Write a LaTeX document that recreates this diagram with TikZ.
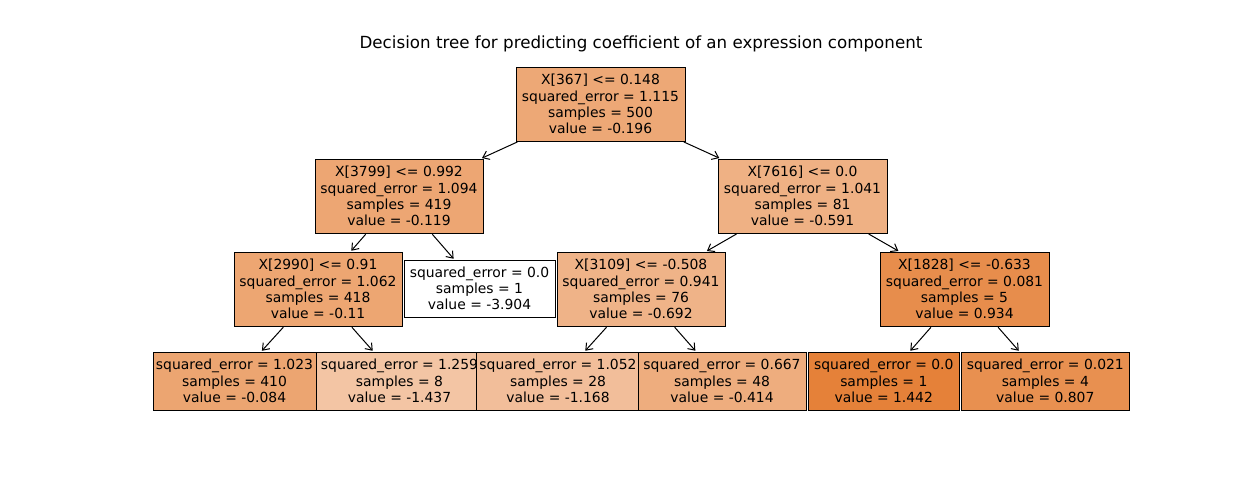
\documentclass[tikz,border=0pt]{standalone}
\usepackage{fontspec}
\setmainfont{DejaVu Sans}
\usetikzlibrary{arrows.meta}
\definecolor{c0}{RGB}{237,168,118}
\definecolor{c1}{RGB}{237,166,115}
\definecolor{c2}{RGB}{239,177,132}
\definecolor{c3}{RGB}{237,166,114}
\definecolor{c4}{RGB}{255,255,255}
\definecolor{c5}{RGB}{239,179,136}
\definecolor{c6}{RGB}{231,141,76}
\definecolor{c7}{RGB}{236,165,113}
\definecolor{c8}{RGB}{243,197,164}
\definecolor{c9}{RGB}{242,190,154}
\definecolor{c10}{RGB}{238,173,126}
\definecolor{c11}{RGB}{229,129,57}
\definecolor{c12}{RGB}{232,144,80}
\begin{document}
\begin{tikzpicture}[x=1pt,y=-1pt,
  tbox/.style={draw=black, line width=1pt, inner sep=0pt, align=center,
    font=\fontsize{13.9}{16.3}\selectfont, minimum height=74pt},
  leafbox/.style={tbox, minimum height=58pt},
  conn/.style={draw=black, line width=1pt, shorten >=1pt, shorten <=1pt,
    -{Straight Barb[length=6pt,width=9pt,line width=1pt]}}]
\useasboundingbox (0,0) rectangle (1251,480);
\node[font=\fontsize{16.7}{20}\selectfont] (title) at (641,44) {Decision tree for predicting coefficient of an expression component};
\node[tbox, fill=c0, minimum width=169pt] (root) at (600.5,104) {X[367] <= 0.148\\squared\_error = 1.115\\samples = 500\\value = -0.196};
\node[tbox, fill=c1, minimum width=168pt] (n1) at (399,196) {X[3799] <= 0.992\\squared\_error = 1.094\\samples = 419\\value = -0.119};
\node[tbox, fill=c3, minimum width=168pt] (n3) at (318,289) {X[2990] <= 0.91\\squared\_error = 1.062\\samples = 418\\value = -0.11};
\node[leafbox, fill=c7, minimum width=163pt] (l1) at (234.5,381) {squared\_error = 1.023\\samples = 410\\value = -0.084};
\node[leafbox, fill=c8, minimum width=167pt] (l2) at (399.5,381) {squared\_error = 1.259\\samples = 8\\value = -1.437};
\node[leafbox, fill=c4, minimum width=151pt, minimum height=57pt] (n4) at (479.5,288.5) {squared\_error = 0.0\\samples = 1\\value = -3.904};
\node[tbox, fill=c2, minimum width=169pt] (n2) at (802.5,196) {X[7616] <= 0.0\\squared\_error = 1.041\\samples = 81\\value = -0.591};
\node[tbox, fill=c5, minimum width=168pt] (n5) at (641,289) {X[3109] <= -0.508\\squared\_error = 0.941\\samples = 76\\value = -0.692};
\node[leafbox, fill=c9, minimum width=164pt] (l3) at (558,381) {squared\_error = 1.052\\samples = 28\\value = -1.168};
\node[leafbox, fill=c10, minimum width=168pt] (l4) at (722,381) {squared\_error = 0.667\\samples = 48\\value = -0.414};
\node[tbox, fill=c6, minimum width=169pt] (n6) at (964.5,289) {X[1828] <= -0.633\\squared\_error = 0.081\\samples = 5\\value = 0.934};
\node[leafbox, fill=c11, minimum width=151pt] (l5) at (883.8,381) {squared\_error = 0.0\\samples = 1\\value = 1.442};
\node[leafbox, fill=c12, minimum width=168.5pt] (l6) at (1045.3,381) {squared\_error = 0.021\\samples = 4\\value = 0.807};
\draw[conn] (root) -- (n1);
\draw[conn] (root) -- (n2);
\draw[conn] (n1) -- (n3);
\draw[conn] (n1) -- (n4);
\draw[conn] (n3) -- (l1);
\draw[conn] (n3) -- (l2);
\draw[conn] (n2) -- (n5);
\draw[conn] (n2) -- (n6);
\draw[conn] (n5) -- (l3);
\draw[conn] (n5) -- (l4);
\draw[conn] (n6) -- (l5);
\draw[conn] (n6) -- (l6);
\end{tikzpicture}
\end{document}
